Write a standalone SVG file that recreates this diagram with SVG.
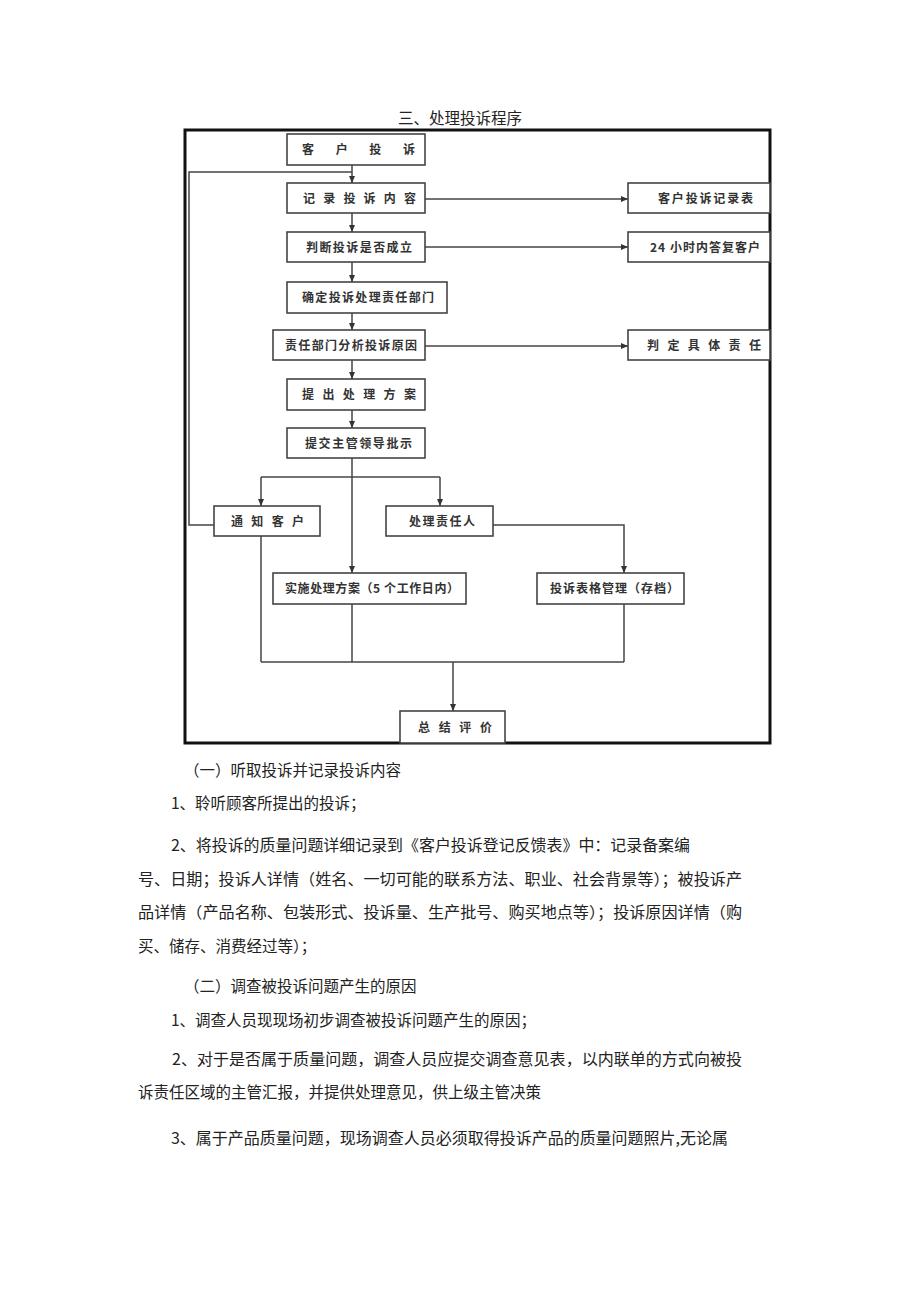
<svg xmlns="http://www.w3.org/2000/svg" width="920" height="1301" viewBox="0 0 920 1301">
<defs>
<marker id="ah" markerWidth="8" markerHeight="8" refX="7" refY="4" orient="auto" markerUnits="userSpaceOnUse">
<path d="M0,1 L7,4 L0,7 Z" fill="#333"/>
</marker>
<style>
.box{fill:#fff;stroke:#444;stroke-width:1.6}
.bt{font-family:"Noto Sans CJK SC","Liberation Sans",sans-serif;font-size:12px;font-weight:700;fill:#333}
.ln{fill:none;stroke:#444;stroke-width:1.5}
.bd{font-family:"Noto Sans CJK SC","Liberation Serif",serif;font-size:15.5px;fill:#222}
</style>
</defs>
<rect width="920" height="1301" fill="#fff"/>
<text x="460" y="124" text-anchor="middle" class="bd" font-size="16">三、处理投诉程序</text>
<rect x="185" y="130" width="585" height="613" fill="none" stroke="#111" stroke-width="3"/>
<g id="connectors">
<polyline class="ln" points="214,525 189,525 189,172 352,172"/>
<line class="ln" x1="352" y1="165" x2="352" y2="183" marker-end="url(#ah)"/>
<line class="ln" x1="352" y1="213" x2="352" y2="232" marker-end="url(#ah)"/>
<line class="ln" x1="352" y1="262" x2="352" y2="282" marker-end="url(#ah)"/>
<line class="ln" x1="352" y1="313" x2="352" y2="330" marker-end="url(#ah)"/>
<line class="ln" x1="352" y1="360" x2="352" y2="379" marker-end="url(#ah)"/>
<line class="ln" x1="352" y1="410" x2="352" y2="428" marker-end="url(#ah)"/>
<line class="ln" x1="352" y1="458" x2="352" y2="573" marker-end="url(#ah)"/>
<line class="ln" x1="425" y1="199" x2="628" y2="199" marker-end="url(#ah)"/>
<line class="ln" x1="425" y1="247" x2="628" y2="247" marker-end="url(#ah)"/>
<line class="ln" x1="425" y1="346" x2="628" y2="346" marker-end="url(#ah)"/>
<line class="ln" x1="261" y1="477" x2="440" y2="477"/>
<line class="ln" x1="261" y1="477" x2="261" y2="506" marker-end="url(#ah)"/>
<line class="ln" x1="440" y1="477" x2="440" y2="506" marker-end="url(#ah)"/>
<polyline class="ln" points="493,525 624,525 624,573" marker-end="url(#ah)"/>
<line class="ln" x1="261" y1="536" x2="261" y2="662"/>
<line class="ln" x1="352" y1="604" x2="352" y2="662"/>
<line class="ln" x1="624" y1="604" x2="624" y2="662"/>
<line class="ln" x1="261" y1="662" x2="624" y2="662" stroke-width="2"/>
<line class="ln" x1="453" y1="662" x2="453" y2="711" stroke-width="2" marker-end="url(#ah)"/>
</g>
<g id="n1"><rect class="box" x="287" y="134" width="138" height="31"/><text class="bt" x="302" y="154" textLength="113" lengthAdjust="spacing">客户投诉</text></g>
<g id="n2"><rect class="box" x="287" y="183" width="138" height="30"/><text class="bt" x="303" y="203" textLength="113" lengthAdjust="spacing">记录投诉内容</text></g>
<g id="n3"><rect class="box" x="628" y="183" width="142" height="30"/><text class="bt" x="658" y="203" textLength="95" lengthAdjust="spacing">客户投诉记录表</text></g>
<g id="n4"><rect class="box" x="287" y="232" width="138" height="30"/><text class="bt" x="306" y="252" textLength="106" lengthAdjust="spacing">判断投诉是否成立</text></g>
<g id="n5"><rect class="box" x="628" y="232" width="142" height="30"/><text class="bt" x="650" y="252" textLength="110" lengthAdjust="spacing">24 小时内答复客户</text></g>
<g id="n6"><rect class="box" x="287" y="282" width="160" height="31"/><text class="bt" x="302" y="302" textLength="132" lengthAdjust="spacing">确定投诉处理责任部门</text></g>
<g id="n7"><rect class="box" x="273" y="330" width="152" height="30"/><text class="bt" x="285" y="350" textLength="132" lengthAdjust="spacing">责任部门分析投诉原因</text></g>
<g id="n8"><rect class="box" x="628" y="330" width="142" height="30"/><text class="bt" x="647" y="350" textLength="114" lengthAdjust="spacing">判定具体责任</text></g>
<g id="n9"><rect class="box" x="287" y="379" width="138" height="31"/><text class="bt" x="302" y="399" textLength="114" lengthAdjust="spacing">提出处理方案</text></g>
<g id="n10"><rect class="box" x="287" y="428" width="138" height="30"/><text class="bt" x="305" y="448" textLength="107" lengthAdjust="spacing">提交主管领导批示</text></g>
<g id="n11"><rect class="box" x="214" y="506" width="106" height="30"/><text class="bt" x="231" y="526" textLength="73" lengthAdjust="spacing">通知客户</text></g>
<g id="n12"><rect class="box" x="386" y="506" width="107" height="30"/><text class="bt" x="409" y="526" textLength="66" lengthAdjust="spacing">处理责任人</text></g>
<g id="n13"><rect class="box" x="273" y="573" width="193" height="31"/><text class="bt" x="285" y="593" textLength="174" lengthAdjust="spacing">实施处理方案（5 个工作日内）</text></g>
<g id="n14"><rect class="box" x="537" y="573" width="147" height="31"/><text class="bt" x="550" y="593" textLength="129" lengthAdjust="spacing">投诉表格管理（存档）</text></g>
<g id="n15"><rect class="box" x="400" y="711" width="105" height="32"/><text class="bt" x="418" y="732" textLength="74" lengthAdjust="spacing">总结评价</text></g>
<g id="body">
<text class="bd" x="184" y="776">（一）听取投诉并记录投诉内容</text>
<text class="bd" x="171" y="809">1、聆听顾客所提出的投诉；</text>
<text class="bd" x="171" y="851" textLength="519" lengthAdjust="spacingAndGlyphs">2、将投诉的质量问题详细记录到《客户投诉登记反馈表》中：记录备案编</text>
<text class="bd" x="138" y="885" textLength="604" lengthAdjust="spacingAndGlyphs">号、日期；投诉人详情（姓名、一切可能的联系方法、职业、社会背景等）；被投诉产</text>
<text class="bd" x="138" y="918" textLength="604" lengthAdjust="spacingAndGlyphs">品详情（产品名称、包装形式、投诉量、生产批号、购买地点等）；投诉原因详情（购</text>
<text class="bd" x="138" y="952">买、储存、消费经过等）；</text>
<text class="bd" x="184" y="992">（二）调查被投诉问题产生的原因</text>
<text class="bd" x="171" y="1026">1、调查人员现现场初步调查被投诉问题产生的原因；</text>
<text class="bd" x="172" y="1065" textLength="570" lengthAdjust="spacingAndGlyphs">2、对于是否属于质量问题，调查人员应提交调查意见表，以内联单的方式向被投</text>
<text class="bd" x="138" y="1098">诉责任区域的主管汇报，并提供处理意见，供上级主管决策</text>
<text class="bd" x="171" y="1144" textLength="557" lengthAdjust="spacingAndGlyphs">3、属于产品质量问题，现场调查人员必须取得投诉产品的质量问题照片,无论属</text>
</g>
</svg>
